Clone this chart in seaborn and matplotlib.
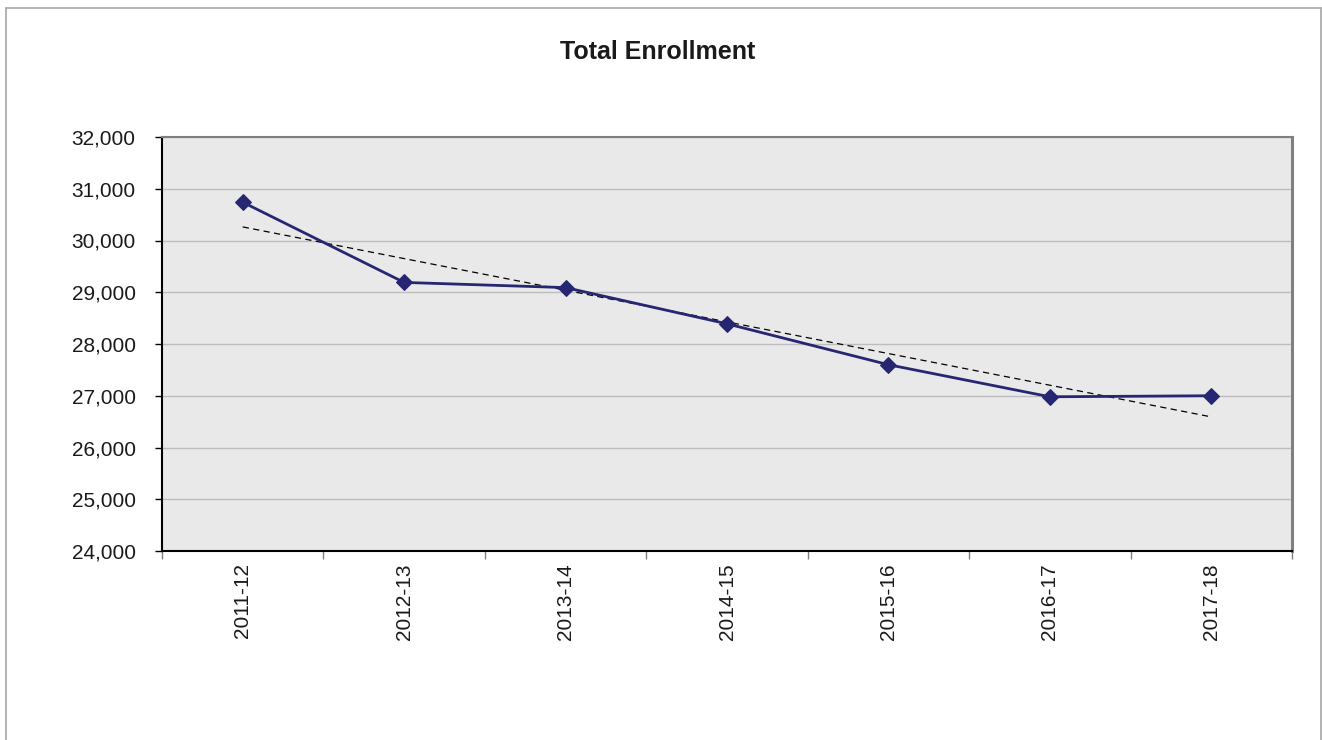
import matplotlib
matplotlib.use("Agg")
import matplotlib.pyplot as plt
from matplotlib.ticker import FuncFormatter, MultipleLocator, FixedLocator
import seaborn as sns
import numpy as np
import pandas as pd

years = ["2011-12", "2012-13", "2013-14", "2014-15", "2015-16", "2016-17", "2017-18"]
enrollment = [30740, 29190, 29090, 28390, 27600, 26980, 27000]

sns.set_theme(style="white")
plt.rcParams['font.family'] = ['Liberation Sans', 'DejaVu Sans']

df = pd.DataFrame({"pos": np.arange(len(years)), "year": years, "enrollment": enrollment})

W, H = 1322, 740
fig = plt.figure(figsize=(W / 100, H / 100), dpi=100)
ax = fig.add_axes([162 / W, 1 - 551 / H, (1292 - 162) / W, (551 - 137) / H])
ax.set_facecolor("#E9E9E9")

# outer border
for xs, ys in [([6, 6], [740, 8]), ([6, 1321], [8, 8]), ([1321, 1321], [8, 740])]:
    fig.add_artist(plt.Line2D([x / W for x in xs], [1 - y / H for y in ys],
                              color="#A6A6A6", lw=1.2))

sns.regplot(data=df, x="pos", y="enrollment", ax=ax, scatter=False, ci=None,
            truncate=True, line_kws=dict(color="black", lw=0.9, ls=(0, (5, 3.5))))
sns.lineplot(data=df, x="pos", y="enrollment", ax=ax, color="#262673", lw=2,
             marker="D", markersize=8.5, markeredgecolor="#262673", zorder=5)

ax.set_xlim(-0.5, len(years) - 0.5)
ax.set_ylim(24000, 32000)
ax.yaxis.set_major_locator(MultipleLocator(1000))
ax.yaxis.set_major_formatter(FuncFormatter(lambda v, p: f"{int(v):,}"))
ax.grid(axis="y", color="#BDBDBD", lw=1)
ax.set_axisbelow(True)

ax.xaxis.set_major_locator(FixedLocator(list(range(len(years)))))
ax.set_xticklabels(years, rotation=90)
ax.xaxis.set_minor_locator(FixedLocator([i - 0.5 for i in range(len(years) + 1)]))
ax.tick_params(axis="x", which="major", length=0, pad=9, labelsize=15, labelcolor="#1a1a1a")
ax.tick_params(axis="x", which="minor", length=6, width=1, color="#808080", bottom=True)
ax.tick_params(axis="y", which="major", length=5, width=1, color="black", left=True,
               labelsize=15, labelcolor="#1a1a1a", pad=14)

ax.set_xlabel("")
ax.set_ylabel("")

for s in ["left", "bottom"]:
    ax.spines[s].set_color("black")
    ax.spines[s].set_linewidth(1.5)
ax.spines["top"].set_color("#808080")
ax.spines["top"].set_linewidth(1.5)
ax.spines["right"].set_color("#808080")
ax.spines["right"].set_linewidth(2.2)

fig.text(658 / W, 1 - 52 / H, "Total Enrollment", ha="center", va="center",
         fontsize=18, fontweight="bold", color="#1a1a1a")

fig.savefig("out.png", dpi=100, facecolor="white")
